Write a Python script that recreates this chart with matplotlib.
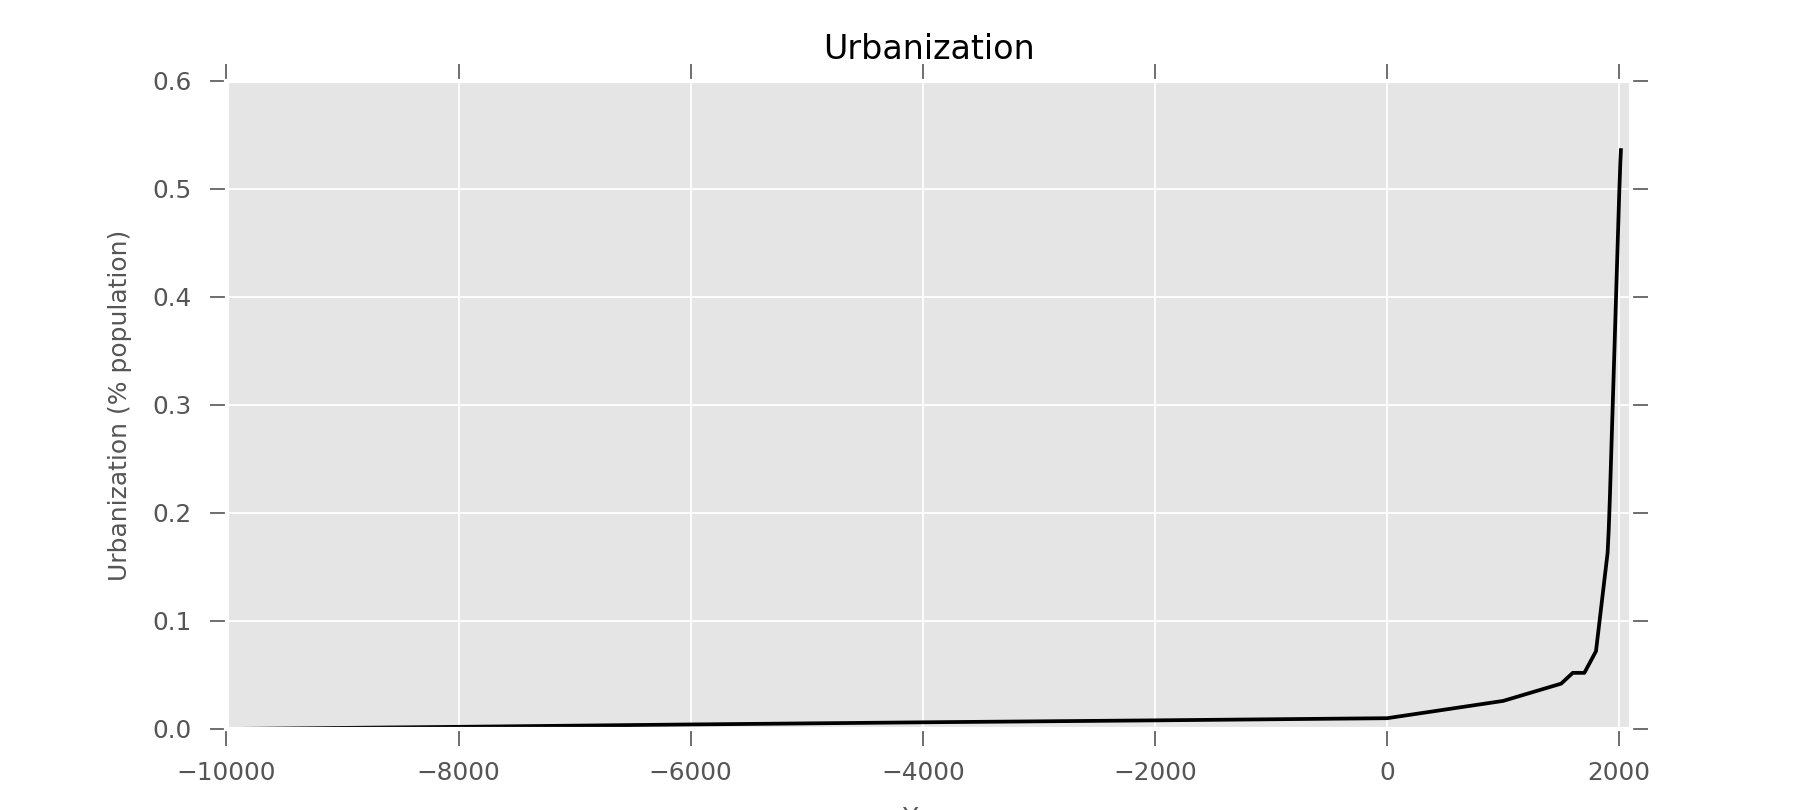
import matplotlib
matplotlib.use("Agg")
import matplotlib.pyplot as plt

# urbanization share
years = [-10000, -8000, -6000, -4000, -2000, 0, 1000, 1500, 1600, 1700, 1800,
         1900, 1910, 1920, 1930, 1940, 1950, 1960, 1970, 1980, 1990, 2000, 2010, 2015]
urban = [0.0, 0.002, 0.0042, 0.0062, 0.008, 0.010, 0.026, 0.042, 0.052, 0.052, 0.072,
         0.163, 0.185, 0.215, 0.25, 0.285, 0.32, 0.355, 0.39, 0.425, 0.46, 0.495, 0.525, 0.536]

xticks = [-10000, -8000, -6000, -4000, -2000, 0, 2000]
yticks = [0.0, 0.1, 0.2, 0.3, 0.4, 0.5, 0.6]

fig = plt.figure(figsize=(18.12, 8.1), dpi=100)
fig.subplots_adjust(left=0.125, right=0.9, bottom=0.1, top=0.9)
ax = fig.add_subplot(111)
ax.set_facecolor('#E5E5E5')
ax.set_axisbelow(True)
ax.grid(True, color='white', linewidth=1.3)

ax.plot(years, urban, color='black', linewidth=2.7)

ax.set_xlim(-10000, 2100)
ax.set_ylim(0, 0.6)
ax.set_xticks(xticks)
ax.set_yticks(yticks)
ax.set_xticklabels([f'{t:d}'.replace('-', '\u2212') for t in xticks])
ax.set_yticklabels([f'{t:.1f}' for t in yticks])

for s in ax.spines.values():
    s.set_color('white')
    s.set_linewidth(3)

ax.tick_params(which='major', direction='out', length=12, width=1.2, color='#555555',
               labelcolor='#555555', labelsize=17.8, top=True, right=True)
ax.tick_params(axis='x', pad=11)
ax.tick_params(axis='y', pad=13)

ax.set_title('Urbanization', fontsize=24, pad=16)
ax.set_ylabel('Urbanization (% population)', fontsize=18, color='#555555', labelpad=15)
ax.set_xlabel('Year', fontsize=18, color='#555555', labelpad=15)

fig.savefig('out.png', dpi=100)
